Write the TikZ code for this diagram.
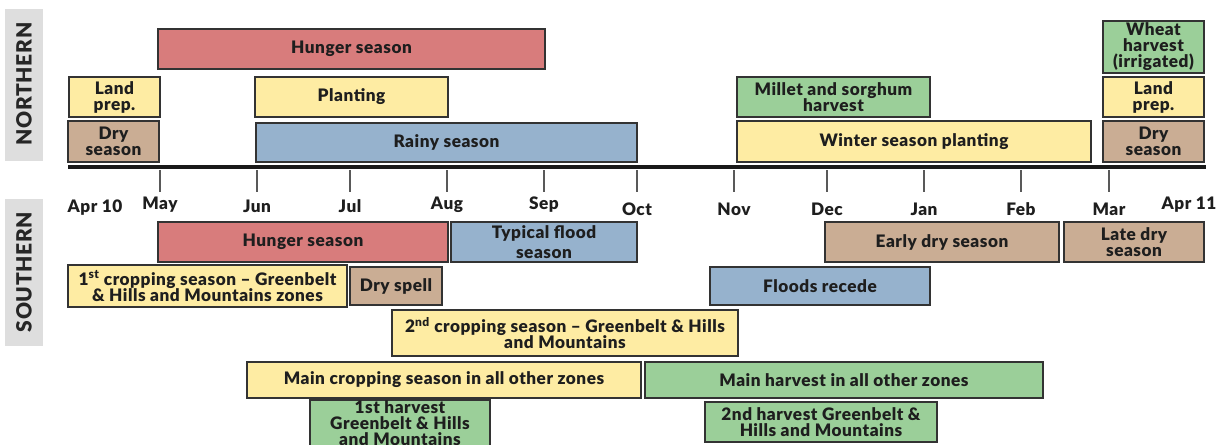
\documentclass[tikz,border=0pt]{standalone}
\usepackage{fontspec}
\setmainfont{Lato}[BoldFont={Lato Black},BoldFeatures={LetterSpace=3}]
\definecolor{cred}{HTML}{D87C7C}
\definecolor{cyel}{HTML}{FEECA3}
\definecolor{ctan}{HTML}{CAAD94}
\definecolor{cblue}{HTML}{96B2CD}
\definecolor{cgreen}{HTML}{9BCF99}
\definecolor{clab}{HTML}{DEDEDE}
\definecolor{ctxt}{HTML}{1E1E1E}
\tikzset{
  bar/.style={draw=black!80, line width=1.3pt, inner sep=0pt, align=center,
    font=\bfseries\fontsize{17.2}{16}\selectfont, text=ctxt},
  hunger/.style={fill=cred},
  yel/.style={fill=cyel},
  tan/.style={fill=ctan},
  blu/.style={fill=cblue},
  grn/.style={fill=cgreen},
  month/.style={font=\bfseries\fontsize{17.2}{16}\selectfont, text=ctxt, inner sep=0pt},
  tickmark/.style={draw=black!65, line width=1.4pt},
  region/.style={fill=clab, draw=none},
  regtext/.style={font=\bfseries\fontsize{21}{21}\selectfont, text=black!85, rotate=90, inner sep=0pt}
}
\newcommand\tlbox[7]{\node[bar,#6,minimum width={#4-#2},minimum height={#5-#3}] (#1) at ({(#2+#4)/2},{(#3+#5)/2}) {#7};}
\begin{document}
\begin{tikzpicture}[x=1pt,y=-1pt]
\useasboundingbox (0,0) rectangle (1225,444);
\clip (0,0) rectangle (1225,444);
% region labels
\fill[region] (5,9) rectangle (43,161);
\node[regtext] (north) at (24,84) {NORTHERN};
\fill[region] (5,199) rectangle (43,346);
\node[regtext] (south) at (24,272) {SOUTHERN};
% axis
\coordinate (axl) at (68,167);
\coordinate (axr) at (1206,167);
\draw[line width=3.6pt, black!90] (axl) -- (axr);
% ticks and months
\foreach \x/\m/\n/\y in {160/May/may/205, 257/Jun/jun/206, 350/Jul/jul/206, 447/Aug/aug/205, 544/Sep/sep/205, 637/Oct/oct/209, 734/Nov/nov/209, 827/Dec/dec/209, 924/Jan/jan/209, 1021/Feb/feb/209, 1109/Mar/mar/209}{
  \coordinate (t\n) at (\x,170);
  \coordinate (b\n) at (\x,192);
  \draw[tickmark] (t\n) -- (b\n);
  \node[month] (\n) at (\x,\y) {\m};
}
\node[month] (apr10) at (95,208) {Apr 10};
\node[month] (apr11) at (1189,205) {Apr 11};
% northern
\tlbox{nhunger}{158}{29}{545}{69}{hunger}{Hunger season}
\tlbox{nland}{69}{77}{160}{117}{yel}{Land\\prep.}
\tlbox{nplant}{255}{77}{448}{117}{yel}{Planting}
\tlbox{ndry}{68}{121}{159}{162}{tan}{Dry\\season}
\tlbox{nrainy}{256}{123}{637}{162}{blu}{Rainy season}
\tlbox{nmillet}{737}{77}{930}{117}{grn}{Millet and sorghum\\harvest}
\tlbox{nwinter}{737}{121}{1091}{162}{yel}{Winter season planting}
\tlbox{nwheat}{1103}{21}{1204}{73}{grn}{Wheat\\harvest\\(irrigated)}
\tlbox{nland2}{1103}{77}{1204}{117}{yel}{Land\\prep.}
\tlbox{ndry2}{1103}{121}{1204}{162}{tan}{Dry\\season}
% southern
\tlbox{shunger}{158}{222}{448}{262}{hunger}{Hunger season}
\tlbox{sflood}{451}{222}{637}{262}{blu}{Typical flood\\[4pt]season}
\tlbox{searly}{825}{222}{1059}{262}{tan}{Early dry season}
\tlbox{slate}{1064}{222}{1204}{262}{tan}{Late dry\\season}
\tlbox{scrop1}{68}{265}{347}{307}{yel}{1\textsuperscript{st} cropping season -- Greenbelt\\\& Hills and Mountains zones}
\tlbox{sdryspell}{350}{267}{442}{305}{tan}{Dry spell}
\tlbox{srecede}{710}{267}{930}{305}{blu}{Floods recede}
\tlbox{scrop2}{392}{310}{738}{356}{yel}{2\textsuperscript{nd} cropping season -- Greenbelt \& Hills\\and Mountains}
\tlbox{smaincrop}{247}{362}{641}{398}{yel}{Main cropping season in all other zones}
\tlbox{smainharv}{645}{362}{1043}{398}{grn}{Main harvest in all other zones}
\tlbox{sharv1}{310}{400}{490}{447}{grn}{1st harvest\\Greenbelt \& Hills\\and Mountains}
\tlbox{sharv2}{705}{402}{937}{442}{grn}{2nd harvest Greenbelt \&\\Hills and Mountains}
\end{tikzpicture}
\end{document}
